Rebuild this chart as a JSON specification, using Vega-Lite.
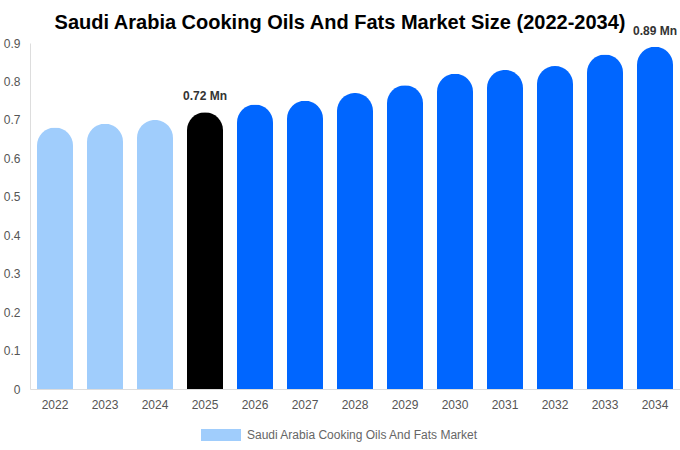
{
  "$schema": "https://vega.github.io/schema/vega-lite/v6.json",
  "width": 650,
  "height": 346,
  "autosize": "none",
  "padding": {"left": 30, "top": 43, "right": 0, "bottom": 61},
  "background": "white",
  "title": {
    "text": "Saudi Arabia Cooking Oils And Fats Market Size (2022-2034)",
    "font": "Liberation Sans",
    "fontSize": 20,
    "fontWeight": "bold",
    "color": "#000000",
    "anchor": "middle",
    "offset": -8,
    "dx": -15
  },
  "config": {
    "view": {"stroke": null},
    "font": "Liberation Sans"
  },
  "data": {
    "values": [
      {"year": "2022", "value": 0.68, "phase": "historical", "label": ""},
      {"year": "2023", "value": 0.69, "phase": "historical", "label": ""},
      {"year": "2024", "value": 0.70, "phase": "historical", "label": ""},
      {"year": "2025", "value": 0.72, "phase": "base", "label": "0.72 Mn"},
      {"year": "2026", "value": 0.74, "phase": "forecast", "label": ""},
      {"year": "2027", "value": 0.75, "phase": "forecast", "label": ""},
      {"year": "2028", "value": 0.77, "phase": "forecast", "label": ""},
      {"year": "2029", "value": 0.79, "phase": "forecast", "label": ""},
      {"year": "2030", "value": 0.82, "phase": "forecast", "label": ""},
      {"year": "2031", "value": 0.83, "phase": "forecast", "label": ""},
      {"year": "2032", "value": 0.84, "phase": "forecast", "label": ""},
      {"year": "2033", "value": 0.87, "phase": "forecast", "label": ""},
      {"year": "2034", "value": 0.89, "phase": "forecast", "label": "0.89 Mn"}
    ]
  },
  "encoding": {
    "x": {
      "field": "year",
      "type": "ordinal",
      "scale": {"paddingInner": 0.28, "paddingOuter": 0.14},
      "axis": {
        "title": null,
        "labelAngle": 0,
        "labelFontSize": 12,
        "labelColor": "#555555",
        "labelPadding": 10,
        "ticks": false,
        "domainColor": "#dddddd"
      }
    },
    "y": {
      "field": "value",
      "type": "quantitative",
      "scale": {"domain": [0, 0.9], "nice": false},
      "axis": {
        "title": null,
        "values": [0, 0.1, 0.2, 0.3, 0.4, 0.5, 0.6, 0.7, 0.8, 0.9],
        "format": ".1~f",
        "grid": false,
        "ticks": false,
        "labelFontSize": 12,
        "labelColor": "#555555",
        "labelPadding": 10,
        "domainColor": "#dddddd"
      }
    }
  },
  "layer": [
    {
      "mark": {"type": "bar", "cornerRadiusTopLeft": 18, "cornerRadiusTopRight": 18},
      "encoding": {
        "color": {
          "field": "phase",
          "type": "nominal",
          "scale": {
            "domain": ["historical", "base", "forecast"],
            "range": ["#a0cdfc", "#000000", "#0066ff"]
          },
          "legend": {
            "values": ["historical"],
            "labelExpr": "'Saudi Arabia Cooking Oils And Fats Market'",
            "title": null,
            "orient": "none",
            "legendX": 171,
            "legendY": 372,
            "symbolType": "M-1,-0.3H1V0.3H-1Z",
            "symbolSize": 1600,
            "symbolStrokeWidth": 0,
            "labelFontSize": 12,
            "labelColor": "#666666",
            "labelOffset": 6,
            "labelLimit": 400
          }
        }
      }
    },
    {
      "transform": [{"filter": "datum.label != ''"}],
      "mark": {
        "type": "text",
        "fontSize": 12,
        "fontWeight": "bold",
        "color": "#333333",
        "baseline": "alphabetic",
        "dy": -12
      },
      "encoding": {
        "text": {"field": "label"}
      }
    }
  ]
}
